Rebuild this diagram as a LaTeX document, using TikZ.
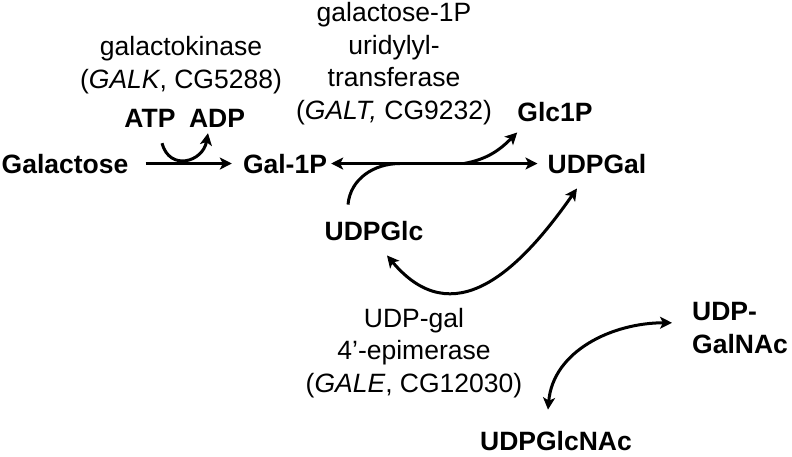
\documentclass[tikz,border=0pt]{standalone}
\usepackage{fontspec}
\setmainfont{Liberation Sans}
\usetikzlibrary{arrows.meta}

\tikzset{
  metab/.style={font=\fontsize{26.5}{32.5}\selectfont\bfseries, inner sep=0pt, anchor=base},
  enzyme/.style={font=\fontsize{26.5}{32.5}\selectfont, align=center, inner sep=0pt, anchor=base},
  rxn/.style={line width=3pt, >={Stealth[length=12pt,width=12pt,inset=3pt]}},
}

\begin{document}
\begin{tikzpicture}[x=1pt,y=1pt]
\useasboundingbox (0,0) rectangle (792,-456);
% enzymes (base = last line)
\node[enzyme] (galk) at (181,-88) {galactokinase\\(\textit{GALK}, CG5288)};
\node[enzyme] (galt) at (394,-119) {galactose-1P\\uridylyl-\\transferase\\(\textit{GALT,} CG9232)};
\node[enzyme] (gale) at (414,-392) {UDP-gal\\4’-epimerase\\(\textit{GALE}, CG12030)};
% metabolites
\node[metab] (galactose) at (65,-173) {Galactose};
\node[metab] (gal1p) at (285,-173) {Gal-1P};
\node[metab] (atp) at (150,-127) {ATP};
\node[metab] (adp) at (217,-127) {ADP};
\node[metab] (glc1p) at (555,-121) {Glc1P};
\node[metab] (udpgal) at (597,-173) {UDPGal};
\node[metab] (udpglc) at (374,-240) {UDPGlc};
\node[metab, align=left, anchor=base west] (udpgalnac) at (692,-353) {UDP-\\GalNAc};
\node[metab] (udpglcnac) at (556,-450) {UDPGlcNAc};

% kinase step
\draw[rxn,->, shorten <=17pt, shorten >=11pt] (galactose) -- (gal1p);
\draw[rxn,->] ([xshift=12pt,yshift=-16pt]atp.south) to[out=-75,in=-100,looseness=1.6] ([xshift=-9pt,yshift=-6pt]adp.south);
% transferase step
\draw[rxn,<->, shorten <=4pt, shorten >=10pt] (gal1p) -- coordinate[pos=0.33] (merge) coordinate[pos=0.62] (split) (udpgal);
\draw[line width=3pt] ([xshift=-26pt,yshift=16pt]udpglc.north) to[out=85,in=180] (merge);
\draw[rxn,->] (split) to[out=10,in=-135] ([yshift=-11pt]glc1p.south west);
% epimerase steps
\draw[rxn,<->] ([xshift=13pt,yshift=-15pt]udpglc.south) to[out=-50,in=-125,looseness=1.3] ([xshift=-20pt,yshift=-15pt]udpgal.south);
\draw[rxn,<->] ([xshift=-8pt,yshift=21pt]udpglcnac.north) to[out=85,in=180] ([xshift=-20pt,yshift=5pt]udpgalnac.west);
\end{tikzpicture}
\end{document}
